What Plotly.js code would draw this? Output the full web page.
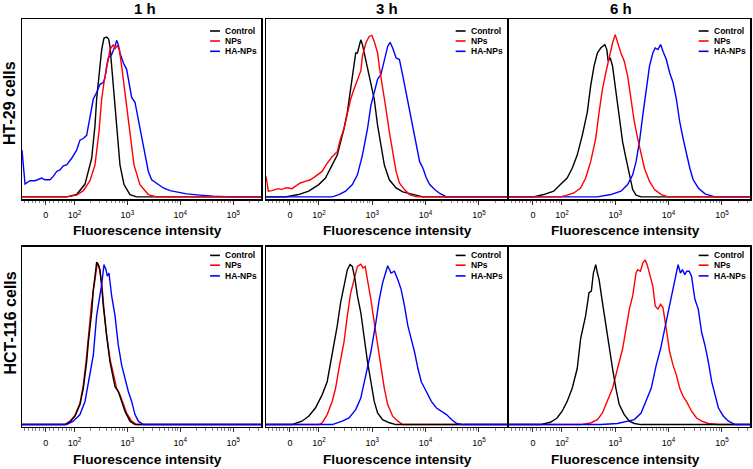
<!DOCTYPE html>
<html>
<head>
<meta charset="utf-8">
<script src="https://cdn.plot.ly/plotly-3.0.1.min.js"></script>
<style>html,body{margin:0;padding:0;background:#fff;}#chart{width:753px;height:469px;}</style>
</head>
<body>
<div id="chart"></div>
<script>
// ---- labels ----
const rowLabels = ["HT-29 cells", "HCT-116 cells"];
const colLabels = ["1 h", "3 h", "6 h"];
const seriesNames = ["Control", "NPs", "HA-NPs"];
const seriesColors = ["#000000", "#ff0000", "#0000ff"];
const xTitle = "Fluorescence intensity";
// x axis: log10(fluorescence intensity); "0" marks the logicle zero
const tickVals = [1.456, 2, 3, 4, 5];
const tickText = ["0", "10<sup>2</sup>", "10<sup>3</sup>", "10<sup>4</sup>", "10<sup>5</sup>"];

// ---- data: x = log10 intensity, y = % of max count ----
// HT-29, 1 h
const ht29_1h_ctrl_x = [1.0, 1.852, 2.041, 2.199, 2.325, 2.388, 2.419, 2.482, 2.514, 2.558, 2.608, 2.646, 2.671, 2.703, 2.753, 2.797, 2.860, 2.936, 3.049, 3.175, 5.55];
const ht29_1h_ctrl_y = [0, 0, 1.3, 7.2, 21.7, 40.2, 55.0, 73.5, 82.8, 89.3, 89.8, 88.7, 84.6, 73.5, 55.0, 36.5, 18.0, 6.9, 1.3, 0, 0];
const ht29_1h_nps_x = [1.0, 1.852, 2.041, 2.167, 2.293, 2.388, 2.463, 2.514, 2.558, 2.608, 2.671, 2.734, 2.766, 2.810, 2.848, 2.892, 2.974, 3.049, 3.125, 3.238, 3.396, 3.554, 5.55];
const ht29_1h_nps_y = [0, 0, 1.0, 3.5, 9.1, 18.0, 36.5, 55.0, 64.3, 73.5, 82.8, 85.6, 83.2, 85.0, 82.8, 73.5, 55.0, 36.5, 18.0, 6.9, 1.3, 0, 0];
const ht29_1h_ha_x = [1.008, 1.065, 1.159, 1.254, 1.380, 1.443, 1.537, 1.600, 1.663, 1.726, 1.789, 1.852, 1.947, 2.041, 2.104, 2.167, 2.230, 2.293, 2.356, 2.419, 2.482, 2.545, 2.577, 2.608, 2.640, 2.703, 2.766, 2.797, 2.829, 2.860, 2.923, 2.986, 3.049, 3.081, 3.144, 3.207, 3.270, 3.333, 3.396, 3.459, 3.554, 3.680, 3.806, 3.995, 4.121, 4.373, 4.625, 5.003, 5.55];
const ht29_1h_ha_y = [26.3, 7.2, 9.1, 9.1, 10.6, 9.6, 9.6, 11.5, 14.3, 15.2, 17.4, 18.0, 21.7, 26.3, 31.9, 32.8, 34.6, 43.9, 55.0, 58.7, 63.3, 64.3, 67.1, 73.5, 78.2, 80.0, 84.6, 88.0, 85.6, 80.9, 75.4, 71.7, 62.4, 55.9, 53.2, 43.9, 32.8, 23.5, 14.3, 9.6, 7.8, 5.0, 3.5, 2.6, 1.7, 1.0, 0.4, 0, 0];
// HT-29, 3 h
const ht29_3h_ctrl_x = [1.0, 1.367, 1.619, 1.808, 1.997, 2.123, 2.249, 2.344, 2.407, 2.470, 2.533, 2.596, 2.659, 2.690, 2.722, 2.753, 2.785, 2.816, 2.848, 2.911, 2.974, 3.037, 3.100, 3.163, 3.226, 3.320, 3.446, 3.573, 3.762, 3.951, 5.55];
const ht29_3h_ctrl_y = [0, 0, 1.3, 3.2, 6.9, 10.6, 18.0, 23.5, 30.9, 38.3, 47.6, 60.6, 71.7, 80.9, 80.9, 84.6, 88.3, 85.6, 80.9, 73.5, 64.3, 55.0, 40.2, 29.1, 18.0, 9.6, 5.0, 2.8, 1.3, 0, 0];
const ht29_3h_nps_x = [1.008, 1.052, 1.115, 1.178, 1.241, 1.304, 1.367, 1.430, 1.493, 1.556, 1.651, 1.745, 1.840, 1.934, 2.060, 2.155, 2.249, 2.344, 2.407, 2.470, 2.533, 2.596, 2.659, 2.722, 2.785, 2.816, 2.879, 2.942, 2.993, 3.037, 3.100, 3.131, 3.194, 3.257, 3.320, 3.383, 3.446, 3.509, 3.604, 3.699, 3.825, 5.55];
const ht29_3h_nps_y = [11.5, 3.2, 3.5, 4.1, 4.6, 4.1, 5.0, 5.0, 4.6, 5.9, 7.8, 8.7, 9.6, 11.5, 14.3, 18.9, 22.6, 25.4, 32.8, 38.3, 47.6, 55.0, 60.6, 66.1, 70.8, 79.1, 86.5, 90.2, 90.8, 87.4, 80.9, 73.5, 62.4, 49.4, 36.5, 25.4, 14.3, 7.8, 4.1, 1.3, 0, 0];
const ht29_3h_ha_x = [1.0, 2.249, 2.375, 2.501, 2.627, 2.722, 2.816, 2.911, 2.974, 3.037, 3.100, 3.163, 3.226, 3.289, 3.333, 3.383, 3.446, 3.509, 3.573, 3.636, 3.699, 3.762, 3.825, 3.888, 3.951, 4.014, 4.077, 4.171, 4.266, 4.392, 5.55];
const ht29_3h_ha_y = [0, 0, 1.3, 3.2, 6.9, 12.4, 23.5, 38.3, 51.3, 58.7, 66.1, 68.9, 77.2, 84.6, 86.9, 83.7, 78.2, 77.2, 68.0, 58.7, 47.6, 38.3, 29.1, 19.8, 16.1, 10.6, 6.9, 4.1, 1.9, 0, 0];
// HT-29, 6 h
const ht29_6h_ctrl_x = [1.0, 1.468, 1.657, 1.846, 1.972, 2.098, 2.193, 2.287, 2.382, 2.476, 2.539, 2.602, 2.665, 2.728, 2.804, 2.842, 2.867, 2.905, 2.949, 3.012, 3.075, 3.138, 3.201, 3.264, 3.327, 3.390, 3.484, 5.55];
const ht29_6h_ctrl_y = [0, 0, 1.3, 3.2, 6.9, 10.6, 16.1, 23.5, 34.6, 47.6, 62.4, 73.5, 80.9, 83.7, 85.6, 82.8, 76.3, 78.2, 73.5, 58.7, 45.8, 30.9, 21.7, 12.4, 4.1, 1.0, 0, 0];
const ht29_6h_nps_x = [1.0, 1.972, 2.098, 2.224, 2.350, 2.445, 2.539, 2.634, 2.697, 2.760, 2.823, 2.886, 2.949, 2.999, 3.043, 3.106, 3.169, 3.232, 3.295, 3.358, 3.421, 3.484, 3.547, 3.642, 3.737, 3.863, 3.989, 5.55];
const ht29_6h_nps_y = [0, 0, 1.0, 2.2, 5.0, 10.6, 19.8, 32.8, 47.6, 60.6, 69.8, 79.1, 86.5, 91.2, 86.5, 80.9, 76.3, 68.0, 55.0, 42.1, 32.8, 23.5, 16.1, 8.7, 4.1, 1.3, 0, 0];
const ht29_6h_ha_x = [1.0, 2.665, 2.917, 3.106, 3.232, 3.327, 3.390, 3.453, 3.516, 3.579, 3.642, 3.705, 3.749, 3.800, 3.850, 3.894, 3.957, 4.020, 4.083, 4.146, 4.209, 4.272, 4.335, 4.398, 4.461, 4.556, 4.682, 4.871, 5.55];
const ht29_6h_ha_y = [0, 0, 1.3, 3.2, 6.9, 12.4, 19.8, 30.9, 45.8, 60.6, 73.5, 80.9, 83.7, 82.8, 85.6, 81.9, 77.2, 69.8, 64.3, 55.0, 42.1, 32.8, 23.5, 16.1, 9.6, 5.0, 1.7, 0, 0];
// HCT-116, 1 h
const hct_1h_ctrl_x = [1.0, 1.821, 1.915, 2.010, 2.104, 2.167, 2.230, 2.262, 2.325, 2.356, 2.388, 2.419, 2.451, 2.482, 2.514, 2.545, 2.608, 2.671, 2.734, 2.766, 2.829, 2.892, 2.955, 3.049, 3.144, 5.55];
const hct_1h_ctrl_y = [0, 0, 1.5, 4.7, 11.2, 20.4, 35.2, 46.3, 63.0, 76.0, 83.4, 91.3, 89.9, 87.1, 77.8, 66.7, 50.0, 35.2, 26.0, 21.3, 18.6, 13.0, 7.4, 1.9, 0, 0];
const hct_1h_nps_x = [1.0, 1.821, 1.915, 2.010, 2.104, 2.167, 2.218, 2.262, 2.325, 2.388, 2.432, 2.463, 2.514, 2.558, 2.608, 2.671, 2.734, 2.797, 2.860, 2.923, 2.986, 3.081, 3.175, 5.55];
const hct_1h_nps_y = [0, 0, 1.9, 5.2, 12.1, 22.3, 35.2, 50.0, 68.6, 81.5, 90.8, 88.9, 79.7, 64.9, 50.0, 37.1, 27.8, 20.4, 16.7, 11.2, 6.5, 1.9, 0, 0];
const hct_1h_ha_x = [1.0, 1.852, 1.978, 2.104, 2.199, 2.293, 2.356, 2.419, 2.482, 2.514, 2.558, 2.596, 2.621, 2.652, 2.703, 2.766, 2.829, 2.892, 2.955, 3.018, 3.081, 3.144, 3.207, 3.301, 5.55];
const hct_1h_ha_y = [0, 0, 1.9, 5.6, 13.0, 27.8, 39.0, 61.2, 72.3, 78.7, 89.9, 87.1, 83.4, 85.2, 72.3, 61.2, 44.5, 33.4, 26.0, 18.6, 13.0, 5.6, 1.9, 0, 0];
// HCT-116, 3 h
const hct_3h_ctrl_x = [1.0, 1.493, 1.682, 1.808, 1.934, 2.060, 2.155, 2.249, 2.344, 2.407, 2.470, 2.533, 2.583, 2.627, 2.678, 2.722, 2.785, 2.848, 2.911, 2.974, 3.037, 3.100, 3.194, 3.320, 3.446, 5.55];
const hct_3h_ctrl_y = [0, 0, 1.9, 4.7, 9.3, 16.7, 24.1, 39.0, 55.6, 68.6, 77.8, 87.1, 89.9, 88.9, 81.5, 72.3, 63.0, 48.2, 35.2, 24.1, 13.0, 6.5, 2.8, 1.0, 0, 0];
const hct_3h_nps_x = [1.0, 1.997, 2.060, 2.155, 2.249, 2.312, 2.375, 2.470, 2.533, 2.596, 2.659, 2.722, 2.785, 2.829, 2.867, 2.911, 2.974, 3.037, 3.100, 3.163, 3.226, 3.289, 3.383, 3.478, 3.573, 5.55];
const hct_3h_nps_y = [0, 0, 0.9, 5.6, 13.0, 20.4, 31.5, 46.3, 61.2, 74.1, 81.5, 88.9, 90.2, 88.0, 88.9, 81.5, 70.4, 57.4, 44.5, 31.5, 20.4, 11.2, 4.7, 1.9, 0, 0];
const hct_3h_ha_x = [1.0, 2.249, 2.438, 2.564, 2.690, 2.785, 2.879, 2.974, 3.068, 3.131, 3.194, 3.257, 3.289, 3.352, 3.415, 3.478, 3.541, 3.604, 3.667, 3.730, 3.793, 3.856, 3.919, 3.982, 4.045, 4.108, 4.203, 4.297, 4.392, 4.486, 4.581, 4.707, 5.55];
const hct_3h_ha_y = [0, 0, 1.9, 3.7, 8.4, 14.9, 27.8, 40.8, 57.4, 70.4, 79.7, 87.1, 89.3, 85.2, 86.2, 81.5, 76.0, 66.7, 55.6, 48.2, 40.8, 31.5, 24.1, 20.4, 16.7, 13.0, 9.3, 7.5, 5.6, 2.8, 0.6, 0, 0];
// HCT-116, 6 h
const hct_6h_ctrl_x = [1.0, 1.594, 1.783, 1.909, 2.004, 2.098, 2.193, 2.287, 2.350, 2.445, 2.508, 2.552, 2.590, 2.634, 2.665, 2.697, 2.760, 2.823, 2.886, 2.949, 3.012, 3.075, 3.169, 3.264, 3.358, 3.484, 5.55];
const hct_6h_ctrl_y = [0, 0, 1.3, 3.7, 7.5, 13.0, 20.4, 31.5, 48.2, 61.2, 74.1, 75.0, 85.2, 89.9, 85.2, 81.5, 68.6, 55.6, 44.5, 31.5, 20.4, 11.2, 5.6, 1.9, 0.6, 0, 0];
const hct_6h_nps_x = [1.0, 2.350, 2.539, 2.665, 2.760, 2.854, 2.949, 3.043, 3.138, 3.201, 3.264, 3.327, 3.390, 3.421, 3.472, 3.516, 3.560, 3.598, 3.642, 3.705, 3.749, 3.800, 3.850, 3.894, 3.957, 4.020, 4.083, 4.146, 4.209, 4.272, 4.335, 4.430, 4.524, 4.619, 4.745, 4.934, 5.55];
const hct_6h_nps_y = [0, 0, 0.9, 2.8, 6.5, 13.0, 20.4, 31.5, 42.6, 53.7, 64.9, 72.3, 85.2, 87.1, 86.2, 90.8, 92.6, 89.9, 85.2, 77.8, 66.7, 64.9, 67.6, 65.8, 53.7, 40.8, 33.4, 27.8, 20.4, 15.8, 13.0, 7.5, 3.7, 1.9, 0.6, 0, 0];
const hct_6h_ha_x = [1.0, 2.728, 3.043, 3.232, 3.358, 3.484, 3.579, 3.674, 3.768, 3.850, 3.926, 3.989, 4.052, 4.115, 4.178, 4.222, 4.260, 4.304, 4.341, 4.386, 4.430, 4.493, 4.556, 4.619, 4.682, 4.745, 4.808, 4.871, 4.934, 5.028, 5.123, 5.249, 5.55];
const hct_6h_ha_y = [0, 0, 0.6, 1.9, 2.8, 6.5, 13.0, 20.4, 33.4, 42.6, 53.7, 63.0, 72.3, 79.7, 89.9, 85.2, 87.1, 84.3, 86.2, 86.2, 83.4, 70.4, 64.9, 51.9, 44.5, 35.2, 24.1, 16.7, 9.3, 4.7, 1.9, 0, 0];

// ---- panel assembly ----
const panelData = [
  [[ht29_1h_ctrl_x, ht29_1h_ctrl_y], [ht29_1h_nps_x, ht29_1h_nps_y], [ht29_1h_ha_x, ht29_1h_ha_y]],
  [[ht29_3h_ctrl_x, ht29_3h_ctrl_y], [ht29_3h_nps_x, ht29_3h_nps_y], [ht29_3h_ha_x, ht29_3h_ha_y]],
  [[ht29_6h_ctrl_x, ht29_6h_ctrl_y], [ht29_6h_nps_x, ht29_6h_nps_y], [ht29_6h_ha_x, ht29_6h_ha_y]],
  [[hct_1h_ctrl_x, hct_1h_ctrl_y], [hct_1h_nps_x, hct_1h_nps_y], [hct_1h_ha_x, hct_1h_ha_y]],
  [[hct_3h_ctrl_x, hct_3h_ctrl_y], [hct_3h_nps_x, hct_3h_nps_y], [hct_3h_ha_x, hct_3h_ha_y]],
  [[hct_6h_ctrl_x, hct_6h_ctrl_y], [hct_6h_nps_x, hct_6h_nps_y], [hct_6h_ha_x, hct_6h_ha_y]]
];

const W = 753, H = 469;
const colPx = [[22, 261], [266, 507], [509, 750]];
const rowPx = [[19, 199], [246.7, 426.7]];
const FONT = "Liberation Sans, Arial, sans-serif";

// minor tick positions (axis decoration)
const minorTicks = [1.06, 1.13, 1.2, 1.27, 1.34, 1.41, 1.52, 1.6, 1.7, 1.78, 1.85, 1.9, 1.95];
for (let d = 2; d <= 5; d++) for (let k = 2; k <= 9; k++) { const v = d + Math.log10(k); if (v < 5.52) minorTicks.push(v); }

const layout = {
  width: W, height: H, margin: {l: 0, r: 0, t: 0, b: 0},
  paper_bgcolor: "#fff", plot_bgcolor: "#fff", showlegend: false,
  annotations: [], shapes: []
};
const traces = [];
const drawOrder = [[0, 2, 1], [1, 0, 2]];
const legendOffsets = [[12, 22, 32.3], [8.7, 18.5, 29.2]];
const colTitleX = [145, 386.7, 621];
const xTitleX = [147.5, 397.8, 625.3];
const xTitleY = [230.5, 459];
const rowTitleY = [103.5, 323];

for (let r = 0; r < 2; r++) {
  for (let c = 0; c < 3; c++) {
    const i = r * 3 + c;
    const suf = i === 0 ? "" : String(i + 1);
    const xa = "xaxis" + suf, ya = "yaxis" + suf;
    layout[xa] = {
      domain: [colPx[c][0] / W, colPx[c][1] / W], anchor: "y" + suf,
      range: [1.008, 5.526], tickmode: "array", tickvals: tickVals, ticktext: tickText,
      ticks: "outside", ticklen: 4, tickwidth: 1, tickcolor: "#333",
      tickfont: {family: FONT, size: 9, color: "#000"}, ticklabelstandoff: 3,
      minor: {tickmode: "array", tickvals: minorTicks, ticks: "outside", ticklen: 2.5, tickwidth: 0.8, tickcolor: "#666"},
      showline: true, mirror: true, linecolor: "#000", linewidth: 1.5,
      showgrid: false, zeroline: false, fixedrange: true
    };
    layout[ya] = {
      domain: [1 - rowPx[r][1] / H, 1 - rowPx[r][0] / H], anchor: "x" + suf,
      range: [-1.2, 100], showline: true, mirror: true, linecolor: "#000", linewidth: 1.5,
      showticklabels: false, ticks: "", showgrid: false, zeroline: false, fixedrange: true
    };
    for (const s of drawOrder[r]) {
      const [xs, ys] = panelData[i][s];
      traces.push({
        type: "scatter", mode: "lines", x: xs, y: ys, name: seriesNames[s],
        xaxis: "x" + suf, yaxis: "y" + suf,
        line: {color: seriesColors[s], width: 1.4}, hoverinfo: "skip"
      });
    }
    // legend
    for (let s = 0; s < 3; s++) {
      const yy = 1 - legendOffsets[r][s] / 180;
      layout.shapes.push({type: "line", xref: "x" + suf + " domain", yref: "y" + suf + " domain",
        x0: 0.787, x1: 0.828, y0: yy, y1: yy, line: {color: seriesColors[s], width: 1.6}});
      layout.annotations.push({xref: "x" + suf + " domain", yref: "y" + suf + " domain",
        x: 0.843, y: yy, xanchor: "left", yanchor: "middle", showarrow: false,
        text: "<b>" + seriesNames[s] + "</b>", font: {family: FONT, size: 8.5, color: "#000"}});
    }
    // x title
    layout.annotations.push({xref: "paper", yref: "paper", x: xTitleX[c] / W, y: 1 - xTitleY[r] / H,
      xanchor: "center", yanchor: "middle", showarrow: false,
      text: "<b>" + xTitle + "</b>", font: {family: FONT, size: 13.7, color: "#000"}});
  }
}
for (let c = 0; c < 3; c++) {
  layout.annotations.push({xref: "paper", yref: "paper", x: colTitleX[c] / W, y: 1 - 8.5 / H,
    xanchor: "center", yanchor: "middle", showarrow: false,
    text: "<b>" + colLabels[c] + "</b>", font: {family: FONT, size: 15, color: "#000"}});
}
for (let r = 0; r < 2; r++) {
  layout.annotations.push({xref: "paper", yref: "paper", x: 9.5 / W, y: 1 - rowTitleY[r] / H,
    xanchor: "center", yanchor: "middle", showarrow: false, textangle: -90,
    text: "<b>" + rowLabels[r] + "</b>", font: {family: FONT, size: 16, color: "#000"}});
}

Plotly.newPlot("chart", traces, layout, {staticPlot: true, displayModeBar: false});
</script>
</body>
</html>
